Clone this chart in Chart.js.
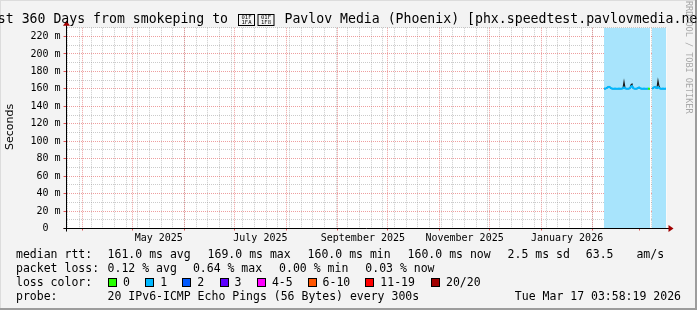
<!DOCTYPE html>
<html lang="en">
<head>
<meta charset="UTF-8">
<title>Smokeping - Pavlov Media (Phoenix)</title>
<script src="https://cdn.jsdelivr.net/npm/chart.js@4"></script>
<style>
  html, body { margin: 0; padding: 0; background: #f3f3f3; overflow: hidden; }
  canvas { display: block; }
</style>
</head>
<body>
<canvas id="rtt-chart" width="697" height="310"></canvas>
<script>
// graph window: last 360 days up to the graph time
const graphEnd = Date.UTC(2026, 2, 17, 3, 58, 19);
const spanDays = 360;
const DAY = 86400000;
const graphStart = graphEnd - spanDays * DAY;

// consolidated samples (one every 14.4 h), first one at:
const firstSample = Date.UTC(2026, 1, 7, 16, 0);
const stepHours = 14.4;

// median rtt, ms (null = no data)
const medianRtt = [
  160.4, 160.3, 160.6, 161.2, 162.0, 162.4, 161.8, 160.8, 160.3, 160.2,
  160.2, 160.3, 160.2, 160.2, 160.2, 160.3, 160.2, 160.2, 160.3, 160.6,
  161.6, 160.6, 160.3, 160.2, 160.2, 160.3, 160.8, 162.6, 163.2, 161.2,
  160.4, 160.2, 160.2, 160.3, 161.0, 161.6, 160.8, 160.3, 160.2, 160.2,
  160.3, 160.2, 160.2, 160.2, 160.3, 160.2, 160.2, null, 160.3, 160.8,
  161.8, 162.2, 161.2, 160.8, 162.0, 161.2, 160.4, 160.2, 160.2, 160.3,
  160.2, 160.2, 160.3
];
// slowest ping of each sample (smoke top), ms
const maxRtt = [
  160.4, 160.3, 160.6, 161.2, 162.0, 162.4, 161.8, 160.8, 160.3, 160.2,
  160.2, 160.3, 160.2, 160.2, 160.2, 160.3, 160.2, 160.2, 160.3, 160.6,
  167.8, 160.6, 160.3, 160.2, 160.2, 160.3, 160.8, 164.5, 165.5, 161.2,
  160.4, 160.2, 160.2, 160.3, 161.0, 161.6, 160.8, 160.3, 160.2, 160.2,
  160.3, 160.2, 160.2, 160.2, 160.3, 160.2, 160.2, null, 160.3, 160.8,
  161.8, 162.2, 161.2, 160.8, 169.0, 163.0, 160.4, 160.2, 160.2, 160.3,
  160.2, 160.2, 160.3
];
// lost pings (of 20) per sample
const lostPings = [
  1, 1, 1, 1, 1, 1, 1, 1, 1, 1,
  1, 1, 1, 1, 1, 1, 1, 1, 1, 1,
  1, 1, 1, 1, 1, 1, 1, 1, 1, 1,
  1, 1, 1, 1, 1, 1, 1, 1, 1, 1,
  1, 1, 1, 1, 1, 0, 0, null, 1, 1,
  1, 1, 1, 1, 1, 1, 1, 1, 1, 1,
  1, 1, 1
];

const yMax = 230;

// x axis labels (centred on the month)
const monthTickLabels = ['May 2025', 'July 2025', 'September 2025', 'November 2025', 'January 2026'];
const monthTickMonths = [[2025, 4], [2025, 6], [2025, 8], [2025, 10], [2026, 0]];

// legend texts
const statsRtt = ['161.0 ms avg', '169.0 ms max', '160.0 ms min', '160.0 ms now', '2.5 ms sd', '63.5', 'am/s'];
const statsLoss = ['0.12 % avg', '0.64 % max', '0.00 % min', '0.03 % now'];
const lossLabels = ['0', '1', '2', '3', '4-5', '6-10', '11-19', '20/20'];
const lossColors = ['#26ff00', '#00b8ff', '#0059ff', '#5e00ff', '#ff00ff', '#ff5500', '#ff0000', '#a10000'];
const probeText = '20 IPv6-ICMP Echo Pings (56 Bytes) every 300s';
const stampText = 'Tue Mar 17 03:58:19 2026';
const titleLeft = 'Last 360 Days from smokeping to ';
const titleFlag = '\u{1F1FA}\u{1F1F8}';
const titleRight = ' Pavlov Media (Phoenix) [phx.speedtest.pavlovmedia.net]';

const toDay = t => (t - graphStart) / DAY;
const sampleDay = i => toDay(firstSample + i * stepHours * 3600000);
const toPoints = arr => arr.map((v, i) => ({ x: sampleDay(i), y: v }));

function lossBucket(n) {
  if (n <= 3) return n;
  if (n <= 5) return 4;
  if (n <= 10) return 5;
  if (n <= 19) return 6;
  return 7;
}

// x ticks: weekly (sunday) minor lines, month starts major, label ticks
const xTicks = [];
for (let t = Date.UTC(2025, 2, 23); t < graphEnd; t += 7 * DAY) {
  xTicks.push({ value: toDay(t), kind: 'minor', text: '' });
}
for (let m = 3; ; m++) {
  const t = Date.UTC(2025, m, 1);
  if (t > graphEnd) break;
  xTicks.push({ value: toDay(t), kind: 'major', text: '' });
}
monthTickMonths.forEach(([y, m], i) => {
  const mid = (Date.UTC(y, m, 1) + Date.UTC(y, m + 1, 1)) / 2;
  xTicks.push({ value: toDay(mid), kind: 'label', text: monthTickLabels[i] });
});
xTicks.sort((a, b) => a.value - b.value);

const gridMinor = 'rgba(140,140,140,0.45)';
const gridMajor = 'rgba(224,80,80,0.55)';
const mono = 'DejaVu Sans Mono';

// the title font has no glyph for the flag: draw the missing-glyph hex boxes
function drawHexBoxes(ctx, text, x, top) {
  ctx.save();
  ctx.strokeStyle = '#000';
  ctx.fillStyle = '#000';
  ctx.lineWidth = 1;
  ctx.font = '5.5px "' + mono + '"';
  ctx.textAlign = 'center';
  ctx.textBaseline = 'middle';
  for (const ch of text) {
    const hex = ch.codePointAt(0).toString(16).toUpperCase().padStart(6, '0');
    ctx.strokeRect(x + 0.5, top + 0.5, 16, 11);
    ctx.fillText(hex.slice(0, 3), x + 8.5, top + 3.8);
    ctx.fillText(hex.slice(3), x + 8.5, top + 8.6);
    x += 19.5;
  }
  ctx.restore();
}

const frame = {
  id: 'frame',
  beforeDraw(chart) {
    const { ctx, chartArea: a } = chart;
    ctx.save();
    ctx.fillStyle = '#f3f3f3';
    ctx.fillRect(0, 0, chart.width, chart.height);
    ctx.fillStyle = '#dcdcdc';
    ctx.fillRect(0, 0, chart.width, 1);
    ctx.fillRect(0, 0, 1, chart.height);
    ctx.fillStyle = '#9c9c9c';
    ctx.fillRect(0, chart.height - 2, chart.width, 2);
    ctx.fillRect(chart.width - 2, 0, 2, chart.height);
    ctx.fillStyle = '#ffffff';
    ctx.fillRect(a.left, a.top, a.right - a.left, a.bottom - a.top);
    ctx.restore();
  },
  afterDraw(chart) {
    const { ctx, chartArea: a } = chart;
    ctx.save();
    // axes
    ctx.strokeStyle = '#000';
    ctx.lineWidth = 1;
    ctx.beginPath();
    ctx.moveTo(a.left - 3, a.bottom);
    ctx.lineTo(a.right + 3, a.bottom);
    ctx.moveTo(a.left, a.bottom + 3);
    ctx.lineTo(a.left, a.top - 3);
    ctx.stroke();
    ctx.fillStyle = '#a00000';
    ctx.beginPath();
    ctx.moveTo(a.right + 2, a.bottom - 3.5);
    ctx.lineTo(a.right + 7, a.bottom);
    ctx.lineTo(a.right + 2, a.bottom + 3.5);
    ctx.closePath();
    ctx.fill();
    ctx.beginPath();
    ctx.moveTo(a.left - 3.5, a.top - 2);
    ctx.lineTo(a.left, a.top - 7);
    ctx.lineTo(a.left + 3.5, a.top - 2);
    ctx.closePath();
    ctx.fill();

    // title
    ctx.fillStyle = '#000';
    ctx.font = '13.2px "' + mono + '"';
    ctx.textBaseline = 'alphabetic';
    ctx.textAlign = 'right';
    ctx.fillText(titleLeft, 236, 23);
    ctx.textAlign = 'left';
    ctx.fillText(titleRight, 276.5, 23);
    drawHexBoxes(ctx, titleFlag, 238, 14);

    // y axis title
    ctx.save();
    ctx.translate(10.5, 127);
    ctx.rotate(-Math.PI / 2);
    ctx.font = '11px "DejaVu Sans"';
    ctx.textAlign = 'center';
    ctx.textBaseline = 'middle';
    ctx.fillText('Seconds', 0, 0);
    ctx.restore();

    // watermark
    ctx.save();
    ctx.translate(688.5, 1);
    ctx.rotate(Math.PI / 2);
    ctx.font = '8.5px "' + mono + '"';
    ctx.fillStyle = '#a8a8a8';
    ctx.textAlign = 'left';
    ctx.textBaseline = 'middle';
    ctx.fillText('RRDTOOL / TOBI OETIKER', 0, 0);
    ctx.restore();

    // legend block
    ctx.font = '11.5px "' + mono + '"';
    ctx.textAlign = 'left';
    ctx.textBaseline = 'alphabetic';
    ctx.fillStyle = '#000';
    const rows = [258.3, 272.3, 286.3, 300.3];
    ctx.fillText('median rtt:', 16, rows[0]);
    [107.6, 207.6, 307.6, 407.6, 507.6, 585.8, 636.4].forEach((x, i) => ctx.fillText(statsRtt[i], x, rows[0]));
    ctx.fillText('packet loss:', 16, rows[1]);
    [107.6, 192.9, 279.1, 365.3].forEach((x, i) => ctx.fillText(statsLoss[i], x, rows[1]));
    ctx.fillText('loss color:', 16, rows[2]);
    [108, 145.3, 182.2, 219.6, 256.9, 307.6, 365.3, 431].forEach((x, i) => {
      const bx = Math.round(x);
      ctx.fillStyle = lossColors[i];
      ctx.fillRect(bx, 278, 9, 9);
      ctx.strokeStyle = '#000';
      ctx.strokeRect(bx + 0.5, 278.5, 8, 8);
      ctx.fillStyle = '#000';
      ctx.fillText(lossLabels[i], x + 15, rows[2]);
    });
    ctx.fillText('probe:', 16, rows[3]);
    ctx.fillText(probeText, 107.6, rows[3]);
    ctx.textAlign = 'right';
    ctx.fillText(stampText, 681, rows[3]);
    ctx.restore();
  }
};

const ctx = document.getElementById('rtt-chart').getContext('2d');
new Chart(ctx, {
  type: 'line',
  data: {
    datasets: [
      {
        label: 'median rtt',
        data: toPoints(medianRtt),
        borderColor: lossColors[1],
        segment: {
          borderColor: c => lossColors[lossBucket(lostPings[c.p1DataIndex] ?? 1)]
        },
        borderWidth: 2,
        pointRadius: 0,
        tension: 0,
        fill: false,
        spanGaps: false,
        order: 1
      },
      {
        label: 'smoke',
        data: toPoints(maxRtt),
        borderColor: '#1a1a1a',
        borderWidth: 1.2,
        pointRadius: 0,
        tension: 0,
        fill: false,
        spanGaps: false,
        order: 2
      },
      {
        label: 'polled',
        data: toPoints(medianRtt.map(v => v === null ? null : yMax)),
        borderWidth: 0,
        borderColor: 'transparent',
        backgroundColor: '#a8e4fc',
        pointRadius: 0,
        fill: 'origin',
        spanGaps: false,
        order: 3
      }
    ]
  },
  options: {
    responsive: false,
    animation: false,
    devicePixelRatio: 1,
    layout: { padding: { left: 0, right: 30.5, top: 27.8, bottom: 61.5 } },
    plugins: { legend: { display: false }, tooltip: { enabled: false } },
    scales: {
      x: {
        type: 'linear',
        min: 0,
        max: spanDays,
        z: 1,
        afterBuildTicks: s => { s.ticks = xTicks.map(t => ({ value: t.value })); },
        afterFit: s => { s.height = 20; },
        ticks: {
          autoSkip: false,
          maxRotation: 0,
          minRotation: 0,
          padding: 2,
          color: '#000',
          font: { family: mono, size: 10 },
          callback: (v, i) => xTicks[i] ? xTicks[i].text : ''
        },
        grid: {
          color: c => {
            const t = xTicks[c.index];
            if (!t || t.kind === 'label') return 'transparent';
            return t.kind === 'major' ? gridMajor : gridMinor;
          },
          tickColor: c => {
            const t = xTicks[c.index];
            return t && t.kind === 'major' ? '#e05050' : 'transparent';
          },
          tickLength: 2
        },
        border: { display: false, dash: [1, 1] }
      },
      y: {
        type: 'linear',
        min: 0,
        max: yMax,
        z: 1,
        afterFit: s => { s.width = 66.5; },
        ticks: {
          stepSize: 10,
          autoSkip: false,
          padding: 3,
          color: '#000',
          font: { family: mono, size: 10 },
          callback: v => v % 20 ? '' : (v === 0 ? '0  ' : v + ' m')
        },
        grid: {
          color: c => c.tick.value === 0 ? 'transparent' : (c.tick.value % 20 ? gridMinor : gridMajor),
          tickColor: c => c.tick.value % 20 ? 'transparent' : '#e05050',
          tickLength: 3
        },
        border: { display: false, dash: [1, 1] }
      }
    }
  },
  plugins: [frame]
});
</script>
</body>
</html>
